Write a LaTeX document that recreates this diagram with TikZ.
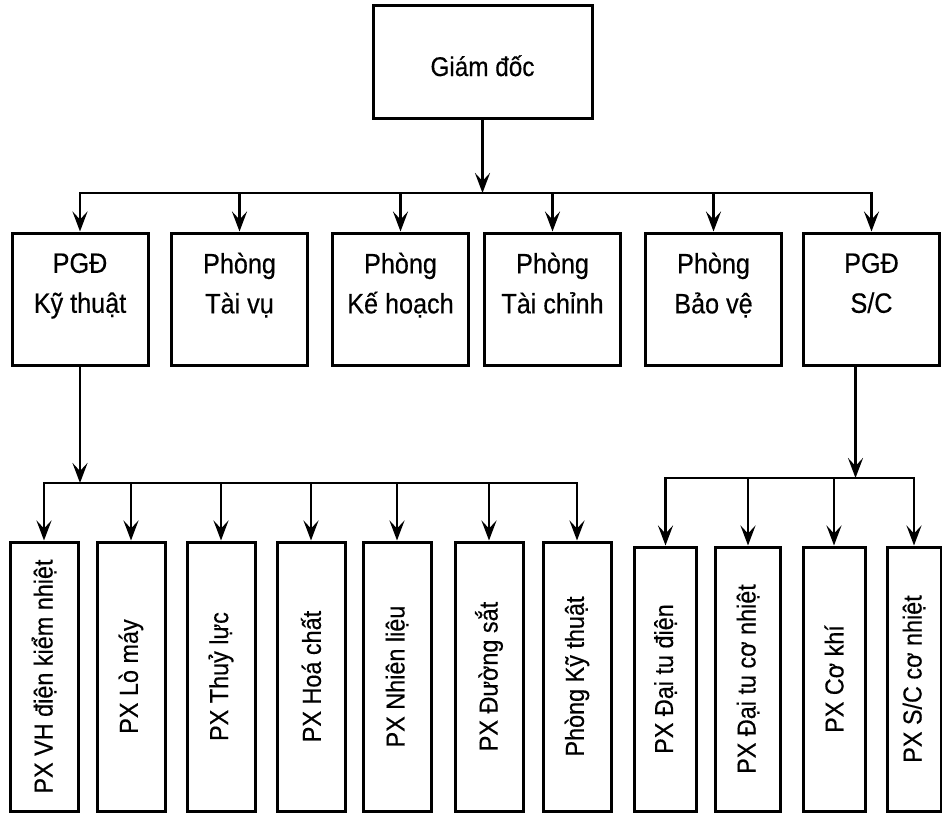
\documentclass[tikz,border=0pt]{standalone}
\usepackage{fontspec}
\setmainfont[FakeStretch=0.9,FakeBold=0.4]{Liberation Sans}
\usetikzlibrary{positioning,arrows.meta}

\begin{document}
\begin{tikzpicture}[x=1pt,y=-1pt,
    box/.style={draw, line width=3pt, inner sep=0pt, align=center},
    headbox/.style={box, minimum width=219pt, minimum height=113pt, text height=29pt, text depth=0pt, font=\fontsize{27}{32}\selectfont},
    deptbox/.style={box, minimum width=136pt, minimum height=132pt, font=\fontsize{28}{40}\selectfont},
    unitbox/.style={box, minimum width=68pt, minimum height=269pt, font=\fontsize{26}{30}\selectfont},
    link/.style={line width=2.8pt, line cap=rect},
    arr/.style={link, -{Stealth[length=20pt,width=15pt,inset=8pt]}}]
    \useasboundingbox (0,0) rectangle (942,814);

    \node[headbox] (gd) at (482.5,61.5) {Giám đốc};

    \node[deptbox] (pgdkt) at (80,299) {PGĐ\\Kỹ thuật\\[-8pt]\mbox{}};
    \node[deptbox] (tv) at (239.5,299) {Phòng\\Tài vụ\\[-8pt]\mbox{}};
    \node[deptbox] (kh) at (400.5,299) {Phòng\\Kế hoạch\\[-8pt]\mbox{}};
    \node[deptbox] (tc) at (552.5,299) {Phòng\\Tài chỉnh\\[-8pt]\mbox{}};
    \node[deptbox] (bv) at (713.5,299) {Phòng\\Bảo vệ\\[-8pt]\mbox{}};
    \node[deptbox] (pgdsc) at (871.5,299) {PGĐ\\S/C\\[-8pt]\mbox{}};

    \node[unitbox] (vh) at (44,676.5) {\rotatebox{90}{PX VH điện kiểm nhiệt}};
    \node[unitbox] (lm) at (131,676.5) {\rotatebox{90}{PX Lò máy}};
    \node[unitbox] (tl) at (221,676.5) {\rotatebox{90}{PX Thuỷ lực}};
    \node[unitbox] (hc) at (311,676.5) {\rotatebox{90}{PX Hoá chất}};
    \node[unitbox] (nl) at (397,676.5) {\rotatebox{90}{PX Nhiên liệu}};
    \node[unitbox] (ds) at (489,676.5) {\rotatebox{90}{PX Đường sắt}};
    \node[unitbox] (pkt) at (577,676.5) {\rotatebox{90}{Phòng Kỹ thuật}};

    \node[unitbox, minimum width=62pt, minimum height=264pt] (dtd) at (665.5,679) {\rotatebox{90}{PX Đại tu điện}};
    \node[unitbox, minimum width=65pt, minimum height=264pt] (dtcn) at (748,679) {\rotatebox{90}{PX Đại tu cơ nhiệt}};
    \node[unitbox, minimum width=62pt, minimum height=264pt] (ck) at (834,679) {\rotatebox{90}{PX Cơ khí}};
    \node[unitbox, minimum width=54pt, minimum height=264pt] (scn) at (914,679) {\rotatebox{90}{PX S/C cơ nhiệt}};

    \coordinate (busA) at (0,193);
    \coordinate (busB) at (0,483);
    \coordinate (busC) at (0,478);

    \draw[arr] (gd.south) -- (gd.south |- busA);
    \draw[link] (pgdkt.north |- busA) -- (pgdsc.north |- busA);
    \foreach \n in {pgdkt,tv,kh,tc,bv,pgdsc}
        \draw[arr] (\n.north |- busA) -- (\n.north);

    \draw[arr] (pgdkt.south) -- (pgdkt.south |- busB);
    \draw[link] (vh.north |- busB) -- (pkt.north |- busB);
    \foreach \n in {vh,lm,tl,hc,nl,ds,pkt}
        \draw[arr] (\n.north |- busB) -- (\n.north);

    \draw[arr] ([xshift=-16pt]pgdsc.south) -- ([xshift=-16pt]pgdsc.south |- busC);
    \draw[link] (dtd.north |- busC) -- (scn.north |- busC);
    \foreach \n in {dtd,dtcn,ck,scn}
        \draw[arr] (\n.north |- busC) -- (\n.north);
\end{tikzpicture}
\end{document}
